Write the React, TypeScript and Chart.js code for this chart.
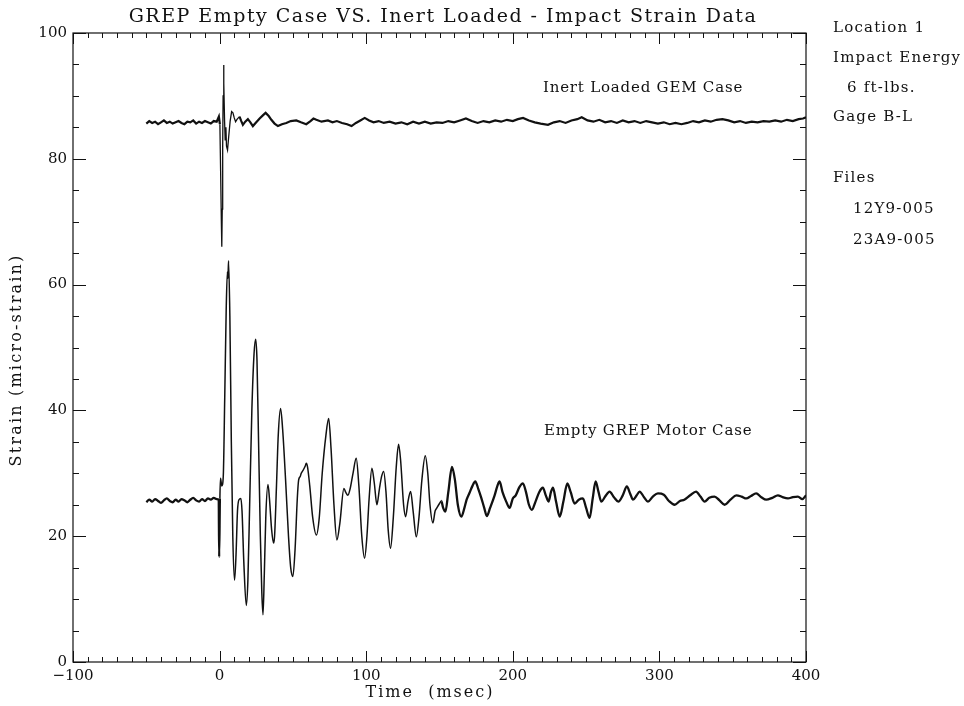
import React, { useEffect, useRef } from 'react';
import { Chart, registerables } from 'chart.js';

Chart.register(...registerables);

const chartTitle = 'GREP Empty Case VS. Inert Loaded - Impact Strain Data';
const xAxisTitle = 'Time  (msec)';
const yAxisTitle = 'Strain (micro-strain)';
const seriesNames = ['Inert Loaded GEM Case', 'Empty GREP Motor Case'];
const sideNotes = ['Location 1', 'Impact Energy', '6 ft-lbs.', 'Gage B-L', 'Files', '12Y9-005', '23A9-005'];

const xRange = [-100, 400];
const yRange = [0, 100];
const xMajorStep = 100;
const xMinorStep = 10;
const yMajorStep = 20;
const yMinorStep = 5;

// Upper trace: Inert Loaded GEM Case
const inertTime = [
  -50, -48, -46, -44, -42, -40, -38, -36, -34, -32,
  -30, -28, -26, -24, -22, -20, -18, -16, -14, -12,
  -10, -8, -6, -4, -2, -0.5, 0.2, 0.7, 1.2, 1.5,
  1.8, 2.1, 2.4, 2.7, 3.0, 3.4, 3.8, 4.3, 4.7, 5.4,
  6.2, 7.2, 8.2, 9.1, 10, 10.9, 12, 13.6, 14.8, 15.9,
  17.5, 19.3, 21, 22.7, 25, 27.3, 29.5, 31.4, 33.5, 35.3,
  37.5, 39.8, 42.5, 45.5, 48.5, 52.3, 55.5, 59.1, 62, 64,
  66, 69.5, 73.9, 77, 80, 83.5, 87, 90, 93, 96,
  99, 102, 105, 108.5, 112, 116, 120, 124, 128, 132,
  136, 140, 144, 148, 152, 156, 160, 164, 168, 172,
  176, 180, 184, 188, 192, 196, 200, 203.5, 207, 211,
  215, 219, 224, 228, 232, 236, 240, 244, 247, 251,
  255, 259, 263, 267, 271, 275, 279, 283, 287, 291,
  295, 299, 303, 307, 311, 315, 319, 323, 327, 331,
  335, 339, 343, 347, 351, 355, 359, 363, 367, 371,
  375, 379, 383, 387, 391, 395, 398, 400,
];
const inertStrain = [
  85.6, 86.0, 85.7, 85.9, 85.5, 85.8, 86.1, 85.7, 85.9, 85.6,
  85.8, 86.0, 85.7, 85.5, 85.9, 85.8, 86.1, 85.6, 85.9, 85.7,
  86.0, 85.8, 85.6, 86.0, 85.9, 86.7, 85.5, 78, 70, 66,
  72, 82, 90, 94.9, 92, 86, 83, 85, 82, 81.4,
  83.5, 86, 87.5, 87.3, 86.5, 85.9, 86.3, 86.7, 86, 85.4,
  85.9, 86.3, 85.8, 85.2, 85.8, 86.4, 86.9, 87.3, 86.8, 86.2,
  85.6, 85.2, 85.5, 85.7, 86, 86.1, 85.8, 85.5, 86, 86.4,
  86.2, 85.9, 86.1, 85.8, 86, 85.7, 85.5, 85.2, 85.7, 86.1,
  86.5, 86.1, 85.8, 86, 85.7, 85.9, 85.6, 85.8, 85.5, 85.9,
  85.6, 85.9, 85.6, 85.8, 85.7, 86, 85.8, 86.1, 86.4, 86,
  85.7, 86, 85.8, 86.1, 85.9, 86.2, 86, 86.3, 86.5, 86.1,
  85.8, 85.6, 85.4, 85.8, 86, 85.7, 86.1, 86.3, 86.6, 86.1,
  85.9, 86.2, 85.8, 86, 85.7, 86.1, 85.8, 86, 85.7, 86,
  85.8, 85.6, 85.8, 85.5, 85.7, 85.5, 85.7, 86, 85.8, 86.1,
  85.9, 86.2, 86.3, 86.1, 85.8, 86, 85.7, 85.9, 85.8, 86,
  85.9, 86.1, 85.9, 86.2, 86, 86.3, 86.4, 86.6,
];

// Lower trace: Empty GREP Motor Case
const emptyTime = [
  -50, -48, -46, -44, -42, -40, -38, -36, -34, -32,
  -30, -28, -26, -24, -22, -20, -18, -16, -14, -12,
  -10, -8, -6, -4, -2, -0.6, -0.3, 0.2, 0.6, 1.5,
  2.5, 3.5, 4.5, 5.3, 5.7, 6.1, 7, 8, 9, 10.2,
  11.2, 12.2, 13.2, 14.5, 15.3, 16.5, 18.2, 19.3, 20.5, 22,
  23.5, 24.6, 25.5, 26.5, 27.8, 28.8, 29.6, 30.5, 31.5, 33,
  34, 35.5, 36.8, 37.5, 38.8, 40, 41.6, 43, 45, 47,
  48.5, 50, 51.5, 53, 53.9, 55, 55.7, 57, 58.5, 59.1,
  60, 61.5, 63.5, 66, 68, 70, 72.5, 74.4, 76, 78,
  80, 82, 84.8, 86, 87.5, 89, 91, 93.2, 95, 97,
  98.9, 100.5, 102, 103.9, 105.5, 107.3, 109, 110.5, 111.9, 113.5,
  115, 116.6, 118.5, 120.5, 122.1, 123.5, 125.5, 126.9, 128.5, 130.3,
  132, 134.2, 136, 138, 140.3, 142, 143.5, 145.5, 147, 148.2,
  150, 151.2, 152.5, 154, 156, 158.5, 160.5, 162.5, 164.9, 167,
  168.5, 170.5, 172.5, 174.4, 176.5, 178.5, 180.5, 182.3, 184.5, 187.6,
  189.5, 191, 193, 195.5, 197.8, 200, 202, 204.5, 206.9, 209,
  211, 213, 215.5, 218, 220.5, 222.5, 224.4, 226, 227.4, 229.5,
  232, 234.5, 237.2, 239.5, 242.2, 245, 247.8, 250, 252.4, 254.5,
  256.5, 258.5, 260.4, 263, 266, 269, 272, 275, 277.8, 280,
  282, 284.5, 286.5, 289.5, 292.2, 295.5, 299, 303, 306.5, 310.4,
  314, 317, 321, 325, 328, 330.8, 334, 337.6, 341, 344.5,
  348.5, 352.5, 356, 359.3, 362.5, 366, 369.5, 372.9, 377, 380.8,
  384, 387.7, 391, 394.5, 397.5, 400,
];
const emptyStrain = [
  25.4, 25.8, 25.5, 25.9, 25.6, 25.3, 25.7, 26.0, 25.6, 25.4,
  25.8, 25.5, 25.9, 25.7, 25.4, 25.8, 26.1, 25.7, 25.5, 25.9,
  25.6, 26.0, 25.8, 26.1, 25.9, 25.8, 16.7, 26.0, 29.2, 28.0,
  29.5, 42, 56, 62, 61, 63.8, 55, 35, 20, 13,
  17, 24, 25.8, 26, 24, 16, 9, 13, 25, 40,
  49, 51.3, 48, 36, 20, 11, 7.5, 14, 23, 28.2,
  26, 21, 18.9, 20, 28, 36, 40.3, 37, 29, 20,
  15, 13.6, 18, 26, 28.9, 29.5, 30, 30.5, 31.2, 31.6,
  31, 28, 23, 20.2, 23, 30, 36, 38.7, 34, 25,
  19.4, 22, 27.6, 27, 26.5, 27.5, 30, 32.4, 28, 20,
  16.5, 20, 26, 30.8, 28.5, 25, 27.5, 29.5, 30.3, 27,
  21, 18.1, 23, 31, 34.6, 32, 25, 23.1, 25.5, 27.1,
  24, 19.9, 23, 29, 32.8, 30, 25, 22.1, 24, 24.5,
  25.2, 25.6, 24.5, 23.9, 27, 31, 29, 25, 23.1, 24.5,
  25.8, 26.9, 28, 28.7, 27.5, 26.1, 24.5, 23.2, 24.5, 26.5,
  28, 28.7, 27, 25.5, 24.5, 26, 26.5, 27.8, 28.4, 27,
  25, 24.2, 25.5, 27, 27.7, 26.5, 25.5, 27, 27.7, 25.5,
  23.1, 25.5, 28.4, 27, 25.2, 25.8, 26, 24.5, 22.9, 26,
  28.7, 27, 25.5, 26.3, 27.1, 26.2, 25.5, 26.5, 27.9, 26.8,
  25.8, 26.5, 27.1, 26.2, 25.5, 26.3, 26.8, 26.6, 25.6, 25,
  25.6, 25.8, 26.5, 27.1, 26.3, 25.5, 26.1, 26.3, 25.7, 25,
  25.8, 26.5, 26.3, 26, 26.4, 26.8, 26.2, 25.8, 26.1, 26.5,
  26.2, 26, 26.2, 26.3, 25.9, 26.5,
];

const FONT = '"DejaVu Serif", "Liberation Serif", serif';
const INK = '#111';

const toPoints = (xs: number[], ys: number[]) => xs.map((x, i) => ({ x, y: ys[i] }));

const drawText = (ctx: any, text: string, x: number, y: number, size: number, spacing: number, align: string) => {
  ctx.font = `${size}px ${FONT}`;
  ctx.letterSpacing = `${spacing}px`;
  const w = ctx.measureText(text).width;
  ctx.textAlign = 'left';
  let sx = x;
  if (align === 'center') sx = x - w / 2;
  ctx.fillText(text, sx, y);
};

const decorPlugin = {
  id: 'decor',
  afterDraw(chart: any) {
    const { ctx, chartArea, scales } = chart;
    const xs = scales.x;
    const ys = scales.y;
    ctx.save();
    ctx.strokeStyle = INK;
    ctx.lineWidth = 1.2;
    ctx.strokeRect(chartArea.left, chartArea.top, chartArea.right - chartArea.left, chartArea.bottom - chartArea.top);
    ctx.lineWidth = 1;
    ctx.beginPath();
    for (let v = xRange[0]; v <= xRange[1]; v += xMinorStep) {
      const px = Math.round(xs.getPixelForValue(v)) + 0.5;
      const len = v % xMajorStep === 0 ? 11 : 5;
      ctx.moveTo(px, chartArea.bottom);
      ctx.lineTo(px, chartArea.bottom - len);
      ctx.moveTo(px, chartArea.top);
      ctx.lineTo(px, chartArea.top + len);
    }
    for (let v = yRange[0]; v <= yRange[1]; v += yMinorStep) {
      const py = Math.round(ys.getPixelForValue(v)) + 0.5;
      const len = v % yMajorStep === 0 ? 13 : 6;
      ctx.moveTo(chartArea.left, py);
      ctx.lineTo(chartArea.left + len, py);
      ctx.moveTo(chartArea.right, py);
      ctx.lineTo(chartArea.right - len, py);
    }
    ctx.stroke();

    ctx.fillStyle = INK;
    ctx.textBaseline = 'middle';
    drawText(ctx, chartTitle, 443, 17, 19, 1.5, 'center');
    drawText(ctx, xAxisTitle, 430, 693, 16, 2, 'center');
    ctx.save();
    ctx.translate(17, 360);
    ctx.rotate(-Math.PI / 2);
    drawText(ctx, yAxisTitle, 0, 0, 16, 2.2, 'center');
    ctx.restore();
    drawText(ctx, seriesNames[0], 543, 88, 15, 0.8, 'left');
    drawText(ctx, seriesNames[1], 544, 431, 15, 0.8, 'left');
    const noteX = [833, 833, 847, 833, 833, 853, 853];
    const noteY = [28, 58, 88, 117, 178, 209, 240];
    sideNotes.forEach((t, i) => drawText(ctx, t, noteX[i], noteY[i], 15, 1.2, 'left'));
    ctx.restore();
  },
};

export default function App() {
  const canvasRef = useRef<HTMLCanvasElement | null>(null);

  useEffect(() => {
    document.body.style.margin = '0';
    const canvas = canvasRef.current;
    if (!canvas) return;
    const thick = (lo: number, hi: number, thin: number, fat: number) => (c: any) => {
      const x = c.p0.parsed.x;
      return x < lo || x > hi ? fat : thin;
    };
    const chart = new Chart(canvas, {
      type: 'line',
      data: {
        datasets: [
          {
            label: seriesNames[0],
            data: toPoints(inertTime, inertStrain),
            borderColor: INK,
            borderWidth: 2,
            pointRadius: 0,
            tension: 0,
            segment: { borderWidth: thick(0, 12, 1.3, 2.2) },
          },
          {
            label: seriesNames[1],
            data: toPoints(emptyTime, emptyStrain),
            borderColor: INK,
            borderWidth: 1.5,
            pointRadius: 0,
            tension: 0.25,
            cubicInterpolationMode: 'monotone',
            segment: { borderWidth: thick(0, 150, 1.5, 2.3) },
          },
        ],
      },
      options: {
        animation: false,
        responsive: true,
        maintainAspectRatio: false,
        layout: { padding: { left: 0, top: 33, right: 158, bottom: 0 } },
        plugins: { legend: { display: false }, tooltip: { enabled: false }, title: { display: false } },
        scales: {
          x: {
            type: 'linear',
            min: xRange[0],
            max: xRange[1],
            grid: { display: false, drawTicks: false },
            border: { display: false },
            ticks: {
              stepSize: xMajorStep,
              color: INK,
              font: { family: FONT, size: 15 },
              padding: 5,
              maxRotation: 0,
              callback: (v: any) => (Number(v) < 0 ? '\u2212' + Math.abs(Number(v)) : String(v)),
            },
            afterFit: (s: any) => { s.height = 44; },
          },
          y: {
            type: 'linear',
            min: yRange[0],
            max: yRange[1],
            grid: { display: false, drawTicks: false },
            border: { display: false },
            ticks: { stepSize: yMajorStep, color: INK, font: { family: FONT, size: 15 }, padding: 6 },
            afterFit: (s: any) => { s.width = 73; },
          },
        },
      },
      plugins: [decorPlugin],
    });
    return () => chart.destroy();
  }, []);

  return (
    <div style={{ position: 'fixed', left: 0, top: 0, width: 964, height: 706, background: '#fff' }}>
      <canvas ref={canvasRef} />
    </div>
  );
}
